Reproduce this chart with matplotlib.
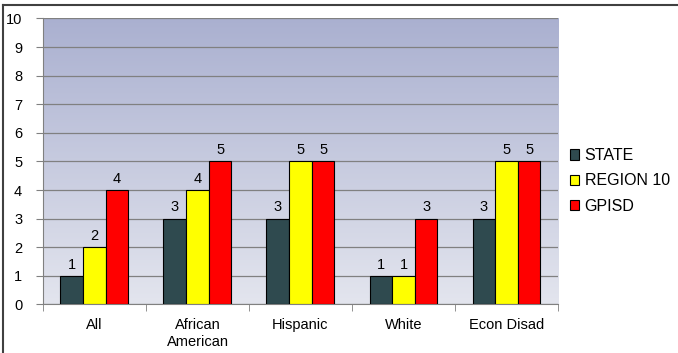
import numpy as np
import matplotlib.pyplot as plt
from matplotlib.lines import Line2D

plt.rcParams['font.family'] = ['Liberation Sans', 'DejaVu Sans']

# Datos por grupo
categorias = ["All", "African\nAmerican", "Hispanic", "White", "Econ Disad"]
series = ["STATE", "REGION 10", "GPISD"]
state = [1, 3, 3, 1, 3]
region10 = [2, 4, 5, 1, 5]
gpisd = [4, 5, 5, 3, 5]
colores = ["#2F4A4F", "#FFFF00", "#FF0000"]

fig = plt.figure(figsize=(6.78, 3.53), dpi=100)
ax = fig.add_axes([0.0634, 0.1374, 0.7596, 0.8102])

# Fondo degradado del area de trazado
grad = np.linspace(0, 1, 256).reshape(-1, 1)
top = np.array([170, 176, 208]) / 255
bot = np.array([227, 229, 238]) / 255
img = top + (bot - top) * grad[..., None]
ax.imshow(img, extent=[-0.5, len(categorias) - 0.5, 0, 10], aspect='auto',
          origin='upper', zorder=0)

x = np.arange(len(categorias))
ancho = 0.22
for k, (vals, c, nom) in enumerate(zip([state, region10, gpisd], colores, series)):
    pos = x + (k - 1) * ancho
    ax.bar(pos, vals, ancho, color=c, edgecolor='black', linewidth=0.8,
           label=nom, zorder=3)
    for p, v in zip(pos, vals):
        ax.text(p, v + 0.15, str(v), ha='center', va='bottom', fontsize=10.5,
                zorder=4)

ax.set_xlim(-0.5, len(categorias) - 0.5)
ax.set_ylim(0, 10)
ax.set_yticks(range(0, 11))
ax.yaxis.grid(True, color='#808080', linewidth=0.9, zorder=1)
ax.set_axisbelow(False)
ax.set_xticks(x)
ax.set_xticklabels(categorias, fontsize=10.5)
ax.set_xticks(np.arange(-0.5, len(categorias)), minor=True)
ax.tick_params(axis='x', which='major', length=0, pad=10)
ax.tick_params(axis='x', which='minor', length=5, color='#808080', direction='out')
ax.tick_params(axis='y', length=5, color='#808080', labelsize=10.5, pad=10)
for s in ['top', 'right']:
    ax.spines[s].set_visible(False)
for s in ['left', 'bottom']:
    ax.spines[s].set_color('#808080')

leg = ax.legend(loc='center left', bbox_to_anchor=(1.01, 0.432), frameon=False,
                fontsize=11.5, handlelength=0.6, handleheight=0.6,
                handletextpad=0.35, labelspacing=0.65, borderaxespad=0)

# Marco exterior (solo arriba e izquierda)
fig.add_artist(Line2D([3 / 678, 1], [1 - 5 / 353, 1 - 5 / 353],
                      transform=fig.transFigure, color='#404040', linewidth=1.5))
fig.add_artist(Line2D([3 / 678, 3 / 678], [0, 1 - 5 / 353],
                      transform=fig.transFigure, color='#404040', linewidth=1.5))

fig.savefig("out.png", dpi=100)
